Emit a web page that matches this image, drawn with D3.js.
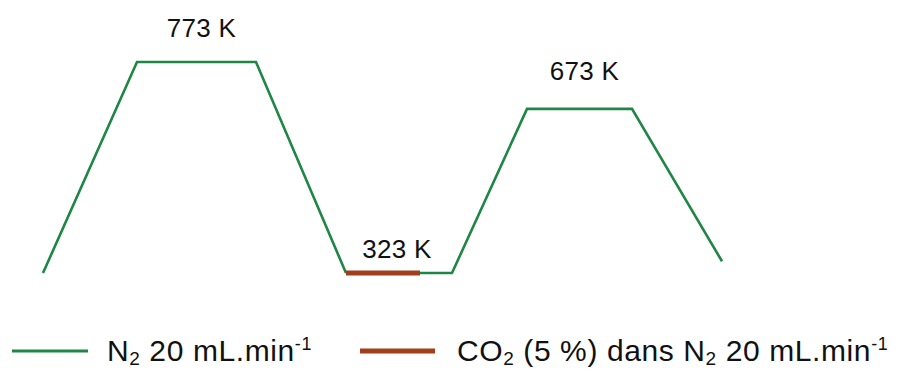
<!DOCTYPE html>
<html>
<head>
<meta charset="utf-8">
<script src="https://cdn.jsdelivr.net/npm/d3@7"></script>
<style>
  body { margin: 0; background: #fff; }
  svg { display: block; font-family: "Liberation Sans", Arial, sans-serif; }
</style>
</head>
<body>
<div id="chart"></div>
<script>
// temperature programme (time in arbitrary units, temperature in K)
const n2First = { t: [0, 94, 213, 303], T: [323, 773, 773, 323] };
const co2Step = { t: [303, 377], T: [323, 323] };
const n2Second = { t: [377, 409, 484, 589, 679], T: [323, 323, 673, 673, 348] };

// plateau labels: [t start, t end, temperature]
const plateaus = [[94, 213, 773], [303, 377, 323], [484, 589, 673]];
const plateauText = ["773 K", "323 K", "673 K"];

const width = 904, height = 369;

const svg = d3.select("#chart").append("svg")
  .attr("width", width)
  .attr("height", height);

const x = d3.scaleLinear().domain([0, 679]).range([43, 722]);
const y = d3.scaleLinear().domain([323, 773]).range([273, 62]);

const line = d3.line().x(d => x(d[0])).y(d => y(d[1]));
const pts = s => s.t.map((t, i) => [t, s.T[i]]);

const green = "#1f8646", brown = "#a13e1c";

svg.append("path").attr("d", line(pts(n2First)))
  .attr("fill", "none").attr("stroke", green).attr("stroke-width", 2.6);
svg.append("path").attr("d", line(pts(n2Second)))
  .attr("fill", "none").attr("stroke", green).attr("stroke-width", 2.6);
svg.append("path").attr("d", line(pts(co2Step)))
  .attr("fill", "none").attr("stroke", brown).attr("stroke-width", 5);

// plateau labels
const labOffset = [25, 15, 29];
svg.selectAll("text.plat")
  .data(plateaus)
  .join("text")
  .attr("class", "plat")
  .attr("x", (d, i) => i === 1 ? x(d[0]) + 51 : (x(d[0]) + x(d[1])) / 2 + 5)
  .attr("y", (d, i) => y(d[2]) - labOffset[i])
  .attr("text-anchor", "middle")
  .attr("font-size", 26)
  .attr("letter-spacing", 0.3)
  .attr("fill", "#111")
  .text((d, i) => plateauText[i]);

// legend
const leg = svg.append("g").attr("font-size", 30).attr("letter-spacing", 0.6).attr("fill", "#111");
leg.append("line").attr("x1", 12).attr("x2", 88).attr("y1", 351).attr("y2", 351)
  .attr("stroke", green).attr("stroke-width", 3);
const t1 = leg.append("text").attr("x", 107).attr("y", 361);
t1.append("tspan").text("N");
t1.append("tspan").attr("font-size", 19).attr("dy", 4).text("2");
t1.append("tspan").attr("dy", -4).text(" 20 mL.min");
t1.append("tspan").attr("font-size", 18).attr("dy", -11).text("-1");

leg.append("line").attr("x1", 360).attr("x2", 435).attr("y1", 351).attr("y2", 351)
  .attr("stroke", brown).attr("stroke-width", 5);
const t2 = leg.append("text").attr("x", 457).attr("y", 361);
t2.append("tspan").text("CO");
t2.append("tspan").attr("font-size", 19).attr("dy", 4).text("2");
t2.append("tspan").attr("dy", -4).text(" (5 %) dans N");
t2.append("tspan").attr("font-size", 19).attr("dy", 4).text("2");
t2.append("tspan").attr("dy", -4).text(" 20 mL.min");
t2.append("tspan").attr("font-size", 18).attr("dy", -11).text("-1");
</script>
</body>
</html>
